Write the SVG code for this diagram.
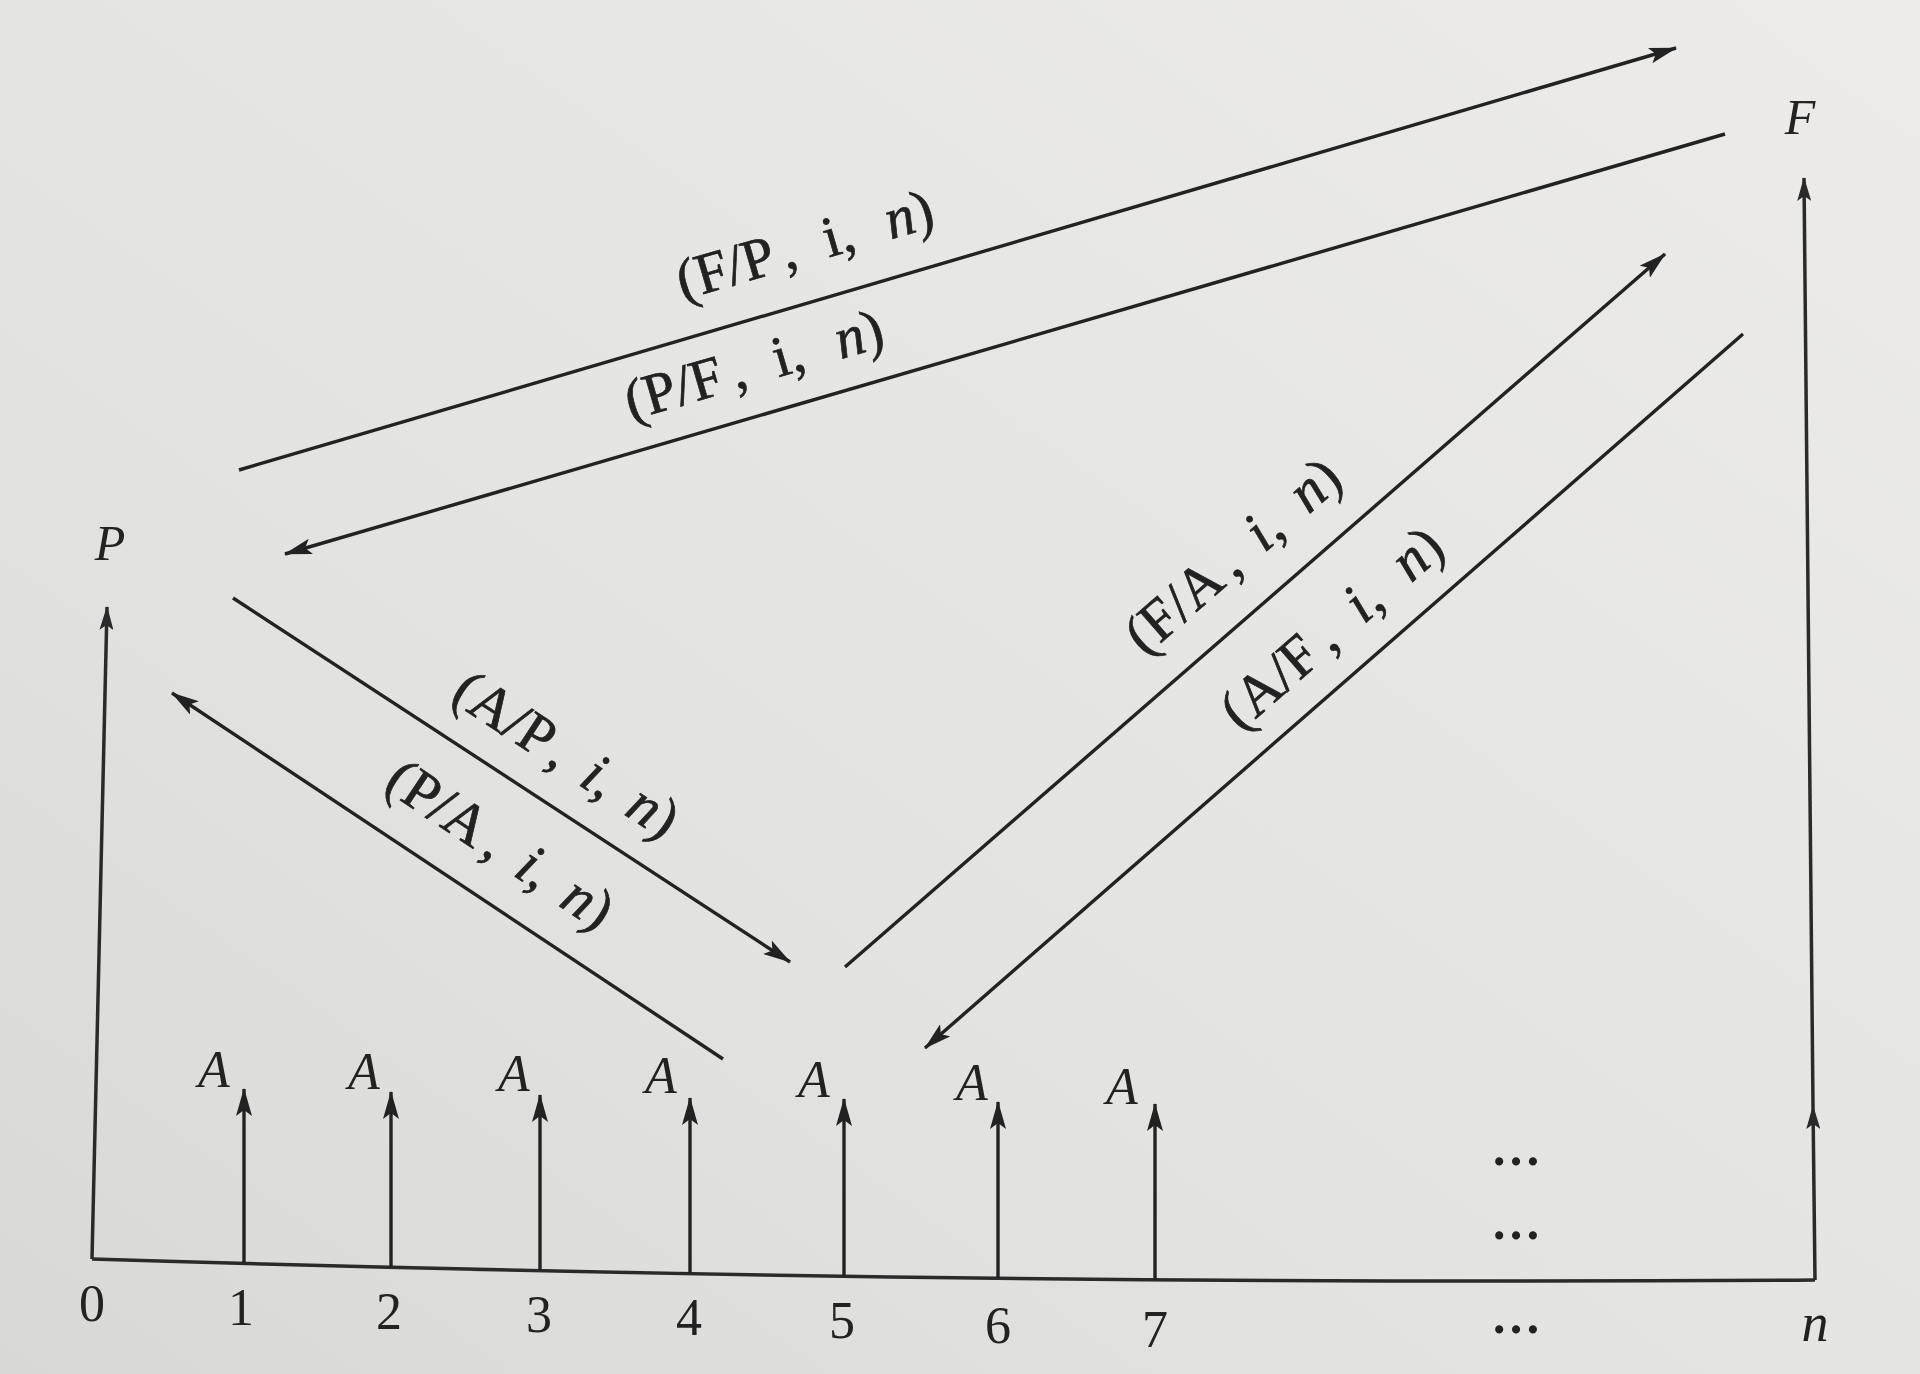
<svg xmlns="http://www.w3.org/2000/svg" width="1920" height="1374" viewBox="0 0 1920 1374">
<defs>
<linearGradient id="paper" x1="1" y1="0" x2="0" y2="1">
<stop offset="0" stop-color="#ecebea"/>
<stop offset="0.6" stop-color="#e3e3e1"/>
<stop offset="1" stop-color="#d8d8d6"/>
</linearGradient>
<marker id="ah" viewBox="0 0 28 16" refX="27" refY="8" markerWidth="28" markerHeight="16" markerUnits="userSpaceOnUse" orient="auto">
<path d="M0,0 L28,8 L0,16 L6,8 Z" fill="#222"/>
</marker>
<marker id="ahs" viewBox="0 0 24 14" refX="23" refY="7" markerWidth="24" markerHeight="14" markerUnits="userSpaceOnUse" orient="auto">
<path d="M0,0 L24,7 L0,14 L5,7 Z" fill="#2a2a2a"/>
</marker>
<style>
.ln{stroke:#222;stroke-width:3.4;fill:none}
.ax{stroke:#2a2a2a;stroke-width:3.5;fill:none}
.arr{marker-end:url(#ah)}
.arrs{marker-end:url(#ahs)}
text{font-family:"Liberation Serif","Times New Roman",serif;fill:#222}
.lbl{font-size:58px;stroke:#222;stroke-width:0.7}
.it{font-style:italic}
.alab{font-size:52px;font-style:italic}
.tick{font-size:52px;text-anchor:middle}
.dots{font-size:50px;font-weight:bold;text-anchor:middle}
</style>
</defs>
<rect x="0" y="0" width="1920" height="1374" fill="url(#paper)"/>

<g id="axes">
<path class="ax" d="M92,1259 Q966,1286 1815,1280"/>
<path class="ax arrs" d="M92,1259 L107,607"/>
<path class="ax arrs" d="M1815,1280 L1813,1106"/>
<path class="ax arrs" d="M1813,1106 L1804,178"/>
</g>

<g id="ticks">
<text class="tick" x="92" y="1321">0</text>
<text class="tick" x="241" y="1325">1</text>
<text class="tick" x="389" y="1329">2</text>
<text class="tick" x="539" y="1332">3</text>
<text class="tick" x="689" y="1335">4</text>
<text class="tick" x="842" y="1338">5</text>
<text class="tick" x="998" y="1343">6</text>
<text class="tick" x="1155" y="1347">7</text>
<text class="dots" x="1516" y="1333">…</text>
<text class="it" x="1815" y="1341" font-size="54" text-anchor="middle">n</text>
</g>

<g id="node-P">
<text class="it" x="110" y="560" font-size="50" text-anchor="middle">P</text>
</g>
<g id="node-F">
<text class="it" x="1800" y="134" font-size="50" text-anchor="middle" fill="#555">F</text>
</g>

<g id="node-A1"><path class="ln arr" d="M244,1263 L244,1089"/><text class="alab" x="214" y="1087" text-anchor="middle">A</text></g>
<g id="node-A2"><path class="ln arr" d="M391,1267 L391,1092"/><text class="alab" x="364" y="1089" text-anchor="middle">A</text></g>
<g id="node-A3"><path class="ln arr" d="M540,1270 L540,1095"/><text class="alab" x="514" y="1091" text-anchor="middle">A</text></g>
<g id="node-A4"><path class="ln arr" d="M690,1273 L690,1098"/><text class="alab" x="661" y="1093" text-anchor="middle">A</text></g>
<g id="node-A5"><path class="ln arr" d="M844,1276 L844,1099"/><text class="alab" x="814" y="1097" text-anchor="middle">A</text></g>
<g id="node-A6"><path class="ln arr" d="M998,1278 L998,1102"/><text class="alab" x="972" y="1100" text-anchor="middle">A</text></g>
<g id="node-A7"><path class="ln arr" d="M1155,1280 L1155,1104"/><text class="alab" x="1122" y="1104" text-anchor="middle">A</text></g>
<g id="node-dots">
<text class="dots" x="1516" y="1165">…</text>
<text class="dots" x="1516" y="1239">…</text>
</g>

<g id="connectors">
<path class="ln arr" d="M239,470 L1676,48"/>
<path class="ln arr" d="M1725,134 L285,554"/>
<path class="ln arr" d="M233,598 L790,962"/>
<path class="ln arr" d="M723,1059 L172,693"/>
<path class="ln arr" d="M845,967 L1665,254"/>
<path class="ln arr" d="M1743,334 L925,1048"/>
</g>

<g id="connector-labels">
<text class="lbl" text-anchor="middle" transform="translate(810,263) rotate(-16.3)">(F/P<tspan dx="14">,</tspan><tspan dx="30">i,</tspan><tspan dx="34" class="it">n</tspan>)</text>
<text class="lbl" text-anchor="middle" transform="translate(759,383) rotate(-16.3)">(P/F<tspan dx="14">,</tspan><tspan dx="30">i,</tspan><tspan dx="34" class="it">n</tspan>)</text>
<text class="lbl" text-anchor="middle" transform="translate(556,770) rotate(33.2)">(A/P<tspan dx="12">,</tspan><tspan dx="24" class="it">i</tspan>,<tspan dx="24" class="it">n</tspan>)</text>
<text class="lbl" text-anchor="middle" transform="translate(490,860) rotate(33.6)">(P/A<tspan dx="8">,</tspan><tspan dx="24" class="it">i</tspan>,<tspan dx="24" class="it">n</tspan>)</text>
<text class="lbl" text-anchor="middle" transform="translate(1245,570) rotate(-41)">(F/A<tspan dx="8">,</tspan><tspan dx="26" class="it">i</tspan>,<tspan dx="28" class="it">n</tspan>)</text>
<text class="lbl" text-anchor="middle" transform="translate(1344,642) rotate(-41.1)">(A/F<tspan dx="14">,</tspan><tspan dx="30" class="it">i</tspan>,<tspan dx="32" class="it">n</tspan>)</text>
</g>
</svg>
